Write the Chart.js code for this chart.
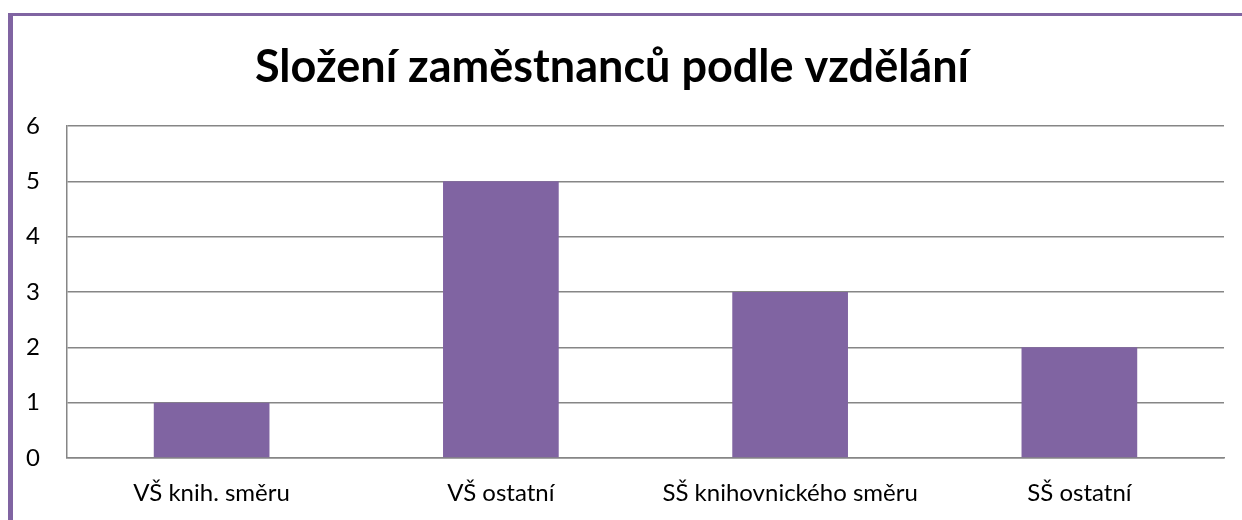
<!DOCTYPE html>
<html>
<head>
<meta charset="utf-8">
<script src="https://cdn.jsdelivr.net/npm/chart.js@4"></script>
<style>
  body { margin: 0; background: #fff; }
  #frame {
    position: absolute; left: 8px; top: 13px; width: 1300px; height: 600px;
    border-left: 5px solid #8064A2; border-top: 3px solid #8064A2;
  }
  #wrap { position: absolute; left: 0; top: 0; width: 1242px; height: 520px; }
</style>
</head>
<body>
<div id="frame"></div>
<div id="wrap"><canvas id="eduChart"></canvas></div>
<script>
// data
var categories = ['VŠ knih. směru', 'VŠ ostatní', 'SŠ knihovnického směru', 'SŠ ostatní'];
var employees = [1, 5, 3, 2];
var yTicks = [0, 1, 2, 3, 4, 5, 6];

var fontFamily = "Lato, 'Open Sans', sans-serif";

const ctx = document.getElementById('eduChart').getContext('2d');
new Chart(ctx, {
  type: 'bar',
  data: {
    labels: categories,
    datasets: [{
      label: 'Počet',
      data: employees,
      backgroundColor: '#8064A2',
      borderWidth: 0,
      barPercentage: 0.4,
      categoryPercentage: 1
    }]
  },
  options: {
    responsive: true,
    maintainAspectRatio: false,
    animation: false,
    layout: { padding: { left: 0, right: 18, top: 0, bottom: 0 } },
    plugins: {
      legend: { display: false },
      tooltip: { enabled: false },
      title: {
        display: true,
        text: 'Složení zaměstnanců podle vzdělání',
        color: '#000',
        font: { family: fontFamily, size: 45, weight: 'bold' },
        padding: { top: 40, bottom: 32 }
      }
    },
    scales: {
      x: {
        grid: { display: false, drawTicks: false },
        border: { display: true, color: '#868686', width: 1.5 },
        ticks: { color: '#000', font: { family: fontFamily, size: 24 }, padding: 21, maxRotation: 0 },
        afterFit: function (scale) { scale.height = 62; }
      },
      y: {
        min: yTicks[0],
        max: yTicks[yTicks.length - 1],
        afterBuildTicks: function (scale) { scale.ticks = yTicks.map(v => ({ value: v })); },
        grid: { color: '#868686', lineWidth: 1.5, drawTicks: false },
        border: { display: true, color: '#868686', width: 1.5 },
        ticks: { color: '#000', font: { family: fontFamily, size: 24 }, padding: 27 },
        afterFit: function (scale) { scale.width = 67; }
      }
    }
  }
});
</script>
</body>
</html>
